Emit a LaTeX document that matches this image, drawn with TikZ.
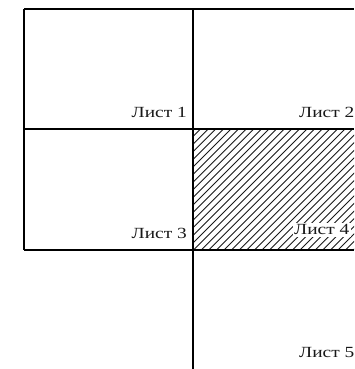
\documentclass[tikz,border=0pt]{standalone}
\usepackage{fontspec}
\setmainfont{Liberation Serif}
\tikzset{
  frameline/.style={line width=1.4pt, black},
  hatchline/.style={line width=0.9pt, black!90},
  sheetlabel/.style={inner sep=0pt, anchor=base east, font=\fontsize{15.5}{15.5}\selectfont, text=black!90},
}
\begin{document}
\begin{tikzpicture}[x=1pt,y=1pt]
\useasboundingbox (0,0) rectangle (354,369);
\clip (0,0) rectangle (354,369);
% hatch of sheet 4
\begin{scope}
  \clip (193,119) rectangle (354,240);
  \foreach \k in {0,...,40} {
    \draw[hatchline] ({72+\k*7.6},119) -- ({193+\k*7.6},240);
  }
\end{scope}
% frame
\draw[frameline] (24,360) -- (354,360);
\draw[frameline] (24,240) -- (354,240);
\draw[frameline] (24,119) -- (354,119);
\draw[frameline] (24,360) -- (24,119);
\draw[frameline] (193,360) -- (193,0);
% labels
\node[sheetlabel] (l1) at (187,251) {\scalebox{1.25}[1]{Лист 1}};
\node[sheetlabel] (l2) at (354.5,251) {\scalebox{1.25}[1]{Лист 2}};
\node[sheetlabel] (l3) at (187,130) {\scalebox{1.25}[1]{Лист 3}};
\node[sheetlabel, fill=white, inner sep=1.5pt] (l4) at (351,134) {\scalebox{1.25}[1]{Лист 4}};
\node[sheetlabel] (l5) at (354.5,11) {\scalebox{1.25}[1]{Лист 5}};
\end{tikzpicture}
\end{document}
